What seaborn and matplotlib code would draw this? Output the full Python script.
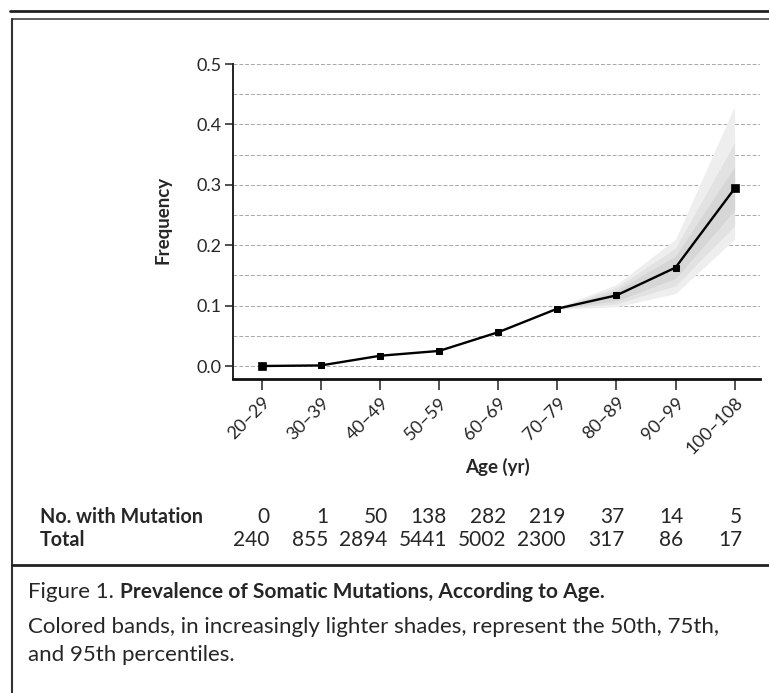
import numpy as np
import pandas as pd
import seaborn as sns
import matplotlib.pyplot as plt
from matplotlib.lines import Line2D
from matplotlib.transforms import blended_transform_factory

age_groups = ['20\u201329', '30\u201339', '40\u201349', '50\u201359', '60\u201369',
              '70\u201379', '80\u201389', '90\u201399', '100\u2013108']
frequency = [0.0, 0.001, 0.017, 0.025, 0.056, 0.095, 0.117, 0.163, 0.294]
n_mutation = [0, 1, 50, 138, 282, 219, 37, 14, 5]
n_total = [240, 855, 2894, 5441, 5002, 2300, 317, 86, 17]

# percentile bands, only drawn from 70-79 onwards
band_groups = ['70\u201379', '80\u201389', '90\u201399', '100\u2013108']
band95_lo = [0.094, 0.098, 0.120, 0.210]
band95_hi = [0.097, 0.135, 0.210, 0.430]
band75_lo = [0.095, 0.103, 0.133, 0.232]
band75_hi = [0.096, 0.130, 0.195, 0.370]
band50_lo = [0.095, 0.108, 0.145, 0.258]
band50_hi = [0.095, 0.125, 0.182, 0.330]

sns.set_theme(style='white')
plt.rcParams['font.family'] = ['Lato', 'DejaVu Sans']

df = pd.DataFrame({'age': age_groups, 'freq': frequency})
df['pos'] = np.arange(len(df))

fig = plt.figure(figsize=(7.69, 6.93), dpi=100)
ax = fig.add_axes([233 / 769, 1 - 379 / 693, 527 / 769, 327 / 693])

# bands
bpos = [age_groups.index(g) for g in band_groups]
ax.fill_between(bpos, band95_lo, band95_hi, color='#eeeeee', lw=0, zorder=1)
ax.fill_between(bpos, band75_lo, band75_hi, color='#e2e2e2', lw=0, zorder=1)
ax.fill_between(bpos, band50_lo, band50_hi, color='#d6d6d6', lw=0, zorder=1)

sns.lineplot(data=df, x='pos', y='freq', color='black', lw=1.7,
             marker='s', markersize=4, markeredgecolor='black', ax=ax, zorder=3)
ends = df.iloc[[0, -1]]
sns.scatterplot(data=ends, x='pos', y='freq', color='black', marker='s', s=36,
                edgecolor='black', ax=ax, zorder=4)

ax.set_xlim(-0.49, 8.43)
ax.set_ylim(-0.0215, 0.52)
ax.set_yticks(np.arange(0, 0.51, 0.1))
ax.set_yticks(np.arange(0.05, 0.5, 0.1), minor=True)
ax.set_yticklabels([f'{v:.1f}' for v in np.arange(0, 0.51, 0.1)])
ax.grid(axis='y', which='both', color='#a8a8a8', lw=0.7, linestyle=(0, (4, 2)))
ax.set_axisbelow(True)

ax.set_xticks(df['pos'])
ax.set_xticklabels(age_groups, rotation=45, ha='right', rotation_mode='anchor',
                   fontsize=13)
ax.tick_params(axis='x', length=8, width=1.2, color='#333333', pad=3,
               bottom=True, labelsize=13)
ax.tick_params(axis='y', which='major', length=6, width=1.2, color='#333333',
               left=True, labelsize=13, pad=2)
ax.tick_params(axis='y', which='minor', length=0)

for s in ['top', 'right']:
    ax.spines[s].set_visible(False)
ax.spines['left'].set_color('#222222')
ax.spines['left'].set_linewidth(1.4)
ax.spines['left'].set_bounds(-0.0215, 0.5)
ax.spines['bottom'].set_color('#111111')
ax.spines['bottom'].set_linewidth(2)

ax.set_xlabel('Age (yr)', fontsize=13.5, fontweight='bold')
ax.xaxis.set_label_coords(0.501, -0.242)
ax.set_ylabel('Frequency', fontsize=13.5, fontweight='bold')
ax.yaxis.set_label_coords(-0.116, 0.486)

# table under the axis
tr = blended_transform_factory(ax.transData, fig.transFigure)
fig.text(40 / 769, 1 - 517 / 693, 'No. with Mutation', fontsize=14.2,
         fontweight='bold', va='center', ha='left')
fig.text(40 / 769, 1 - 540 / 693, 'Total', fontsize=14.2,
         fontweight='bold', va='center', ha='left')
for i, (m, t) in enumerate(zip(n_mutation, n_total)):
    ax.text(i + 0.13, 1 - 517 / 693, str(m), transform=tr, ha='right',
            va='center', fontsize=15)
    ax.text(i + 0.13, 1 - 540 / 693, str(t), transform=tr, ha='right',
            va='center', fontsize=15)

# frame lines
fig.add_artist(Line2D([10 / 769, 1], [1 - 11 / 693] * 2, color='#222222', lw=2,
                      transform=fig.transFigure))
fig.add_artist(Line2D([12 / 769, 1], [1 - 19 / 693] * 2, color='#444444', lw=1.2,
                      transform=fig.transFigure))
fig.add_artist(Line2D([12 / 769] * 2, [0, 1 - 19 / 693], color='#333333', lw=1.5,
                      transform=fig.transFigure))
fig.add_artist(Line2D([12 / 769, 1], [1 - 565 / 693] * 2, color='#222222', lw=2,
                      transform=fig.transFigure))

# caption
t1 = fig.text(28 / 769, 1 - 592 / 693, 'Figure 1.', fontsize=16, va='center', ha='left')
fig.text(120 / 769, 1 - 592 / 693, 'Prevalence of Somatic Mutations, According to Age.',
         fontsize=15, fontweight='bold', va='center', ha='left')
fig.text(28 / 769, 1 - 627 / 693,
         'Colored bands, in increasingly lighter shades, represent the 50th, 75th,',
         fontsize=16, va='center', ha='left')
fig.text(28 / 769, 1 - 655 / 693, 'and 95th percentiles.',
         fontsize=16, va='center', ha='left')

fig.savefig('out.png', dpi=100)
